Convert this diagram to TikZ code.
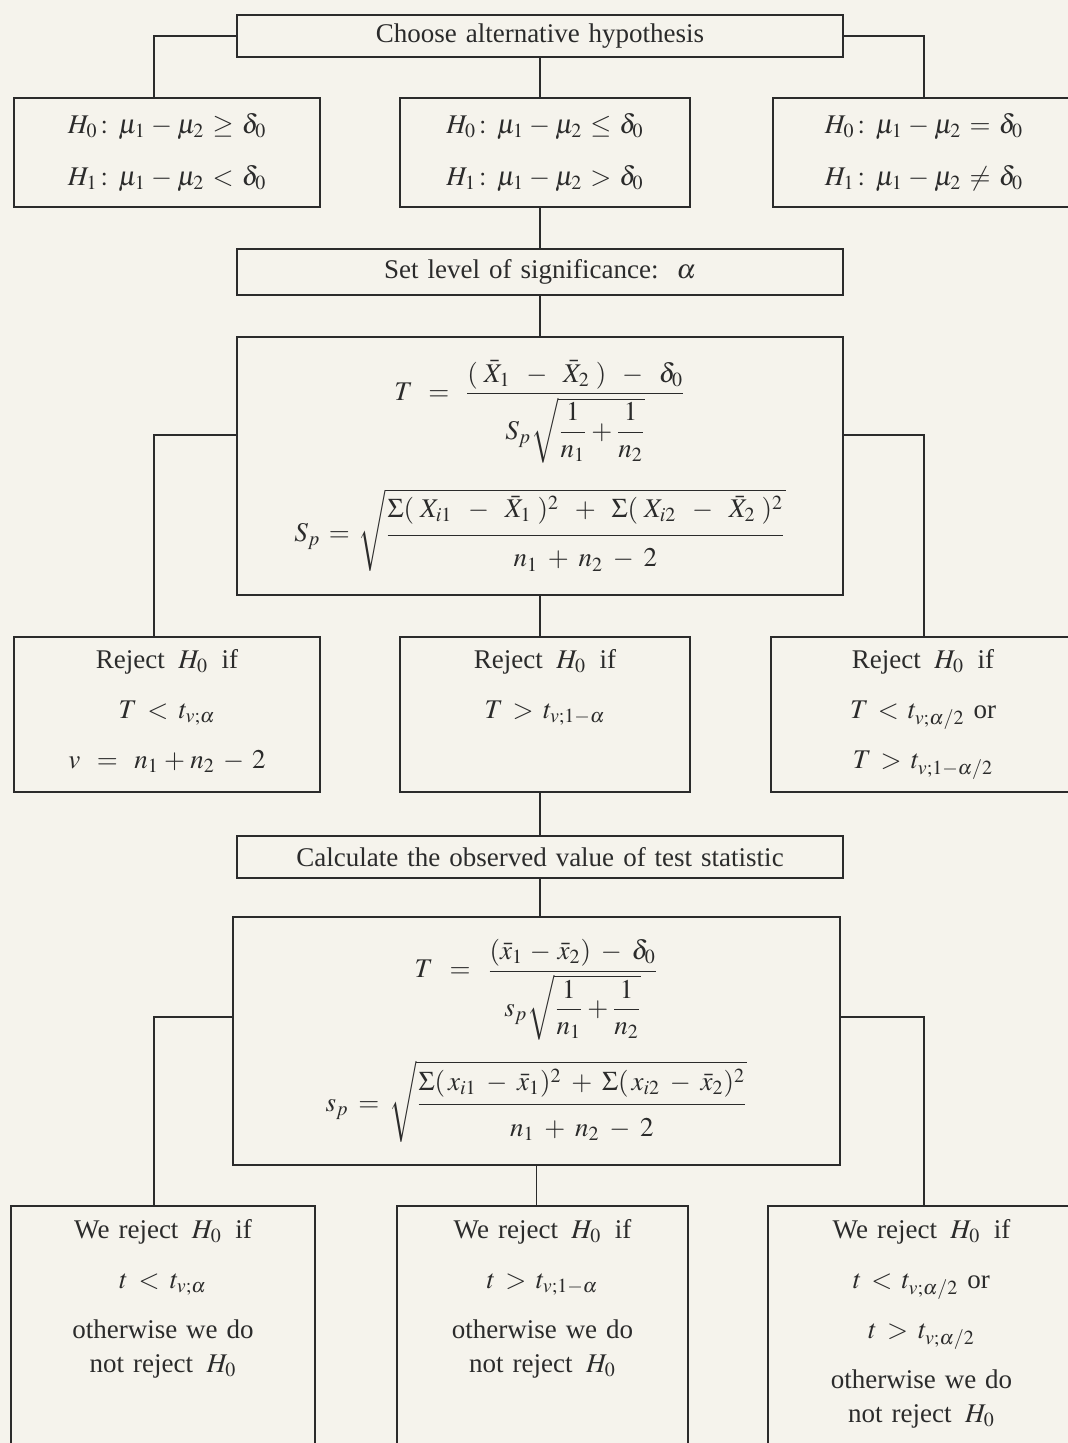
\documentclass[tikz,border=0pt]{standalone}
\usepackage{amsmath}
\usepackage{mathptmx}
\usepackage[no-math]{fontspec}
\setmainfont{Liberation Serif}
\usepackage{xcolor}
\definecolor{paper}{HTML}{F5F3EC}
\definecolor{ink}{HTML}{2B2B2B}
\usepackage{tikz}
\usetikzlibrary{positioning,calc}
\tikzset{
  every picture/.style={line join=miter},
  box/.style={draw=ink, line width=0.9pt, fill=paper, text=ink, inner xsep=0pt,
    inner ysep=0pt, align=center, font=\fontsize{13.5}{26}\selectfont},
  rowbox/.style={box, anchor=north, font=\fontsize{13.5}{25}\selectfont,
    text height=16pt, text depth=#1},
  link/.style={draw=ink, line width=0.7pt},
}
% struts that open up the fractions of the formula boxes
\newcommand{\numgap}[1]{\rule[-#1]{0pt}{#1}}
\newcommand{\dengap}[1]{\rule{0pt}{#1}}

\begin{document}
\begin{tikzpicture}[x=0.5pt, y=-0.5pt]
\useasboundingbox (0,0) rectangle (1068,1443);
\fill[paper] (0,0) rectangle (1068,1443);
\clip (0,0) rectangle (1068,1443);
% columns of the side links, rows where they leave the formula boxes
\coordinate (colL) at (154,0);
\coordinate (colR) at (924,0);
\coordinate (tapA) at (0,435);
\coordinate (tapB) at (0,1017);

% ------------------------------------------------------------------ hypotheses
\node[box, text width=303pt, minimum height=21pt] (choose) at (540,36)
  {Choose alternative hypothesis};
\node[box, text width=153pt, minimum height=54.5pt] (hypL) at (167,152.5)
  {$H_0\colon \mu_1-\mu_2 \ge \delta_0$\\ $H_1\colon \mu_1-\mu_2 < \delta_0$};
\node[box, text width=145pt, minimum height=54.5pt] (hypM) at (545,152.5)
  {$H_0\colon \mu_1-\mu_2 \le \delta_0$\\ $H_1\colon \mu_1-\mu_2 > \delta_0$};
\node[box, text width=151pt, minimum height=54.5pt] (hypR) at (924,152.5)
  {$H_0\colon \mu_1-\mu_2 = \delta_0$\\ $H_1\colon \mu_1-\mu_2 \ne \delta_0$};

% ------------------------------------------------------------------ test statistic
\node[box, text width=303pt, minimum height=23pt] (level) at (540,272)
  {Set level of significance:\ \ $\alpha$};
\node[box, text width=303pt, minimum height=129pt] (stat) at (540,466)
  {$\displaystyle T\,=\,\frac{(\;\bar{X}_1\;\;-\;\;\bar{X}_2\;)\;\;-\;\;\delta_0}
     {S_p\sqrt{\dfrac{1}{n_1}+\dfrac{1}{n_2}}}$\\[12pt]
   $\displaystyle S_p = \sqrt{\frac{\Sigma(\;X_{i1}\;\;-\;\;\bar{X}_1\;)^2\;\;+\;\;
       \Sigma(\;X_{i2}\;\;-\;\;\bar{X}_2\;)^2\numgap{7pt}}
     {\dengap{14pt}n_1\;+\;n_2\;-\;2}}$};

% ------------------------------------------------------------------ rejection rules
\node[rowbox=61.5pt, text width=153pt] (rejL) at (167,636)
  {Reject \,$H_0$\, if\\ $T < t_{v;\alpha}$\\ $v \;=\; n_1 + n_2 \,-\, 2$};
\node[rowbox=61.5pt, text width=145pt] (rejM) at (545,636)
  {Reject \,$H_0$\, if\\ $T > t_{v;1-\alpha}$};
\node[rowbox=61.5pt, text width=152pt] (rejR) at (923,636)
  {Reject \,$H_0$\, if\\ $T < t_{v;\alpha/2}$ or\\ $T > t_{v;1-\alpha/2}$};

% ------------------------------------------------------------------ observed value
\node[box, text width=303pt, minimum height=21pt] (calc) at (540,857)
  {Calculate the observed value of test statistic};
\node[box, text width=303.5pt, minimum height=124pt] (obs) at (536.5,1041)
  {$\displaystyle T\,=\,\frac{(\bar{x}_1\,-\,\bar{x}_2)\;-\;\delta_0}
     {s_p\sqrt{\dfrac{1}{n_1}+\dfrac{1}{n_2}}}$\\[9pt]
   $\displaystyle s_p = \sqrt{\frac{\Sigma(\,x_{i1}\;-\;\bar{x}_1)^2\;+\;
       \Sigma(\,x_{i2}\;-\;\bar{x}_2)^2\numgap{5pt}}
     {\dengap{14pt}n_1\;+\;n_2\;-\;2}}$};

% ------------------------------------------------------------------ decisions
\node[rowbox=116pt, text height=16.5pt, text width=152pt] (decL) at (163,1205)
  {We reject \,$H_0$\, if\\ $t < t_{v;\alpha}$\\ otherwise we do\\[-8pt] not reject \,$H_0$};
\node[rowbox=116pt, text height=16.5pt, text width=145.5pt] (decM) at (542.5,1205)
  {We reject \,$H_0$\, if\\ $t > t_{v;1-\alpha}$\\ otherwise we do\\[-8pt] not reject \,$H_0$};
\node[rowbox=116pt, text height=16.5pt, text width=153.5pt] (decR) at (921.5,1205)
  {We reject \,$H_0$\, if\\ $t < t_{v;\alpha/2}$ or\\ $t > t_{v;\alpha/2}$\\
   otherwise we do\\[-8pt] not reject \,$H_0$};

% links
\draw[link] (choose.west) -| (colL |- hypL.north);
\draw[link] (choose.east) -| (colR |- hypR.north);
\draw[link] (choose.south) -- (choose.south |- hypM.north);
\draw[link] (level.north |- hypM.south) -- (level.north);
\draw[link] (level.south) -- (stat.north);
\draw[link] (stat.west |- tapA) -| (colL |- rejL.north);
\draw[link] (stat.east |- tapA) -| (colR |- rejR.north);
\draw[link] (stat.south) -- (stat.south |- rejM.north);
\draw[link] (calc.north |- rejM.south) -- (calc.north);
\draw[link] (calc.south) -- (calc.south |- obs.north);
\draw[link] (obs.west |- tapB) -| (colL |- decL.north);
\draw[link] (obs.east |- tapB) -| (colR |- decR.north);
\draw[link] (obs.south) -- (obs.south |- decM.north);
\end{tikzpicture}
\end{document}
